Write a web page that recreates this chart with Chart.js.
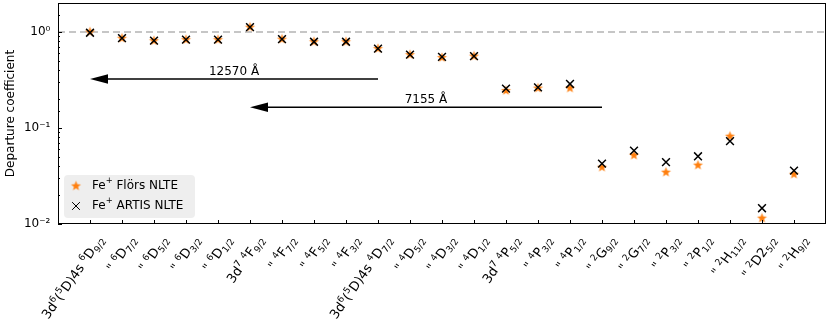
<!DOCTYPE html>
<html>
<head>
<meta charset="utf-8">
<script src="https://cdn.jsdelivr.net/npm/chart.js@4.4.7/dist/chart.umd.min.js"></script>
<style>
    html, body { margin: 0; padding: 0; background: #ffffff; }
    #wrap { width: 830px; height: 332px; }
</style>
</head>
<body>
<div id="wrap"><canvas id="departure_chart"></canvas></div>
<script>
// Level labels, ^{..} = superscript, _{..} = subscript
var levels = [
    '3d^{6}(^{5}D)4s ^{6}D_{9/2}', '" ^{6}D_{7/2}', '" ^{6}D_{5/2}', '" ^{6}D_{3/2}', '" ^{6}D_{1/2}',
    '3d^{7} ^{4}F_{9/2}', '" ^{4}F_{7/2}', '" ^{4}F_{5/2}', '" ^{4}F_{3/2}',
    '3d^{6}(^{5}D)4s ^{4}D_{7/2}', '" ^{4}D_{5/2}', '" ^{4}D_{3/2}', '" ^{4}D_{1/2}',
    '3d^{7} ^{4}P_{5/2}', '" ^{4}P_{3/2}', '" ^{4}P_{1/2}',
    '" ^{2}G_{9/2}', '" ^{2}G_{7/2}', '" ^{2}P_{3/2}', '" ^{2}P_{1/2}',
    '" ^{2}H_{11/2}', '" ^{2}D2_{5/2}', '" ^{2}H_{9/2}'
];

var floersNLTE = [1.00, 0.86, 0.81, 0.83, 0.83, 1.12, 0.84, 0.79, 0.79, 0.67, 0.58, 0.54, 0.56,
                  0.245, 0.26, 0.26, 0.039, 0.052, 0.0346, 0.041, 0.082, 0.0115, 0.033];
var artisNLTE  = [0.98, 0.86, 0.81, 0.83, 0.83, 1.12, 0.84, 0.79, 0.79, 0.67, 0.58, 0.55, 0.56,
                  0.257, 0.265, 0.287, 0.0426, 0.058, 0.044, 0.0507, 0.073, 0.0146, 0.036];

var seriesNames = ['Fe^{+} Flörs NLTE', 'Fe^{+} ARTIS NLTE'];

// Wavelength arrows: from level index, to level index, height, text
var arrowFrom   = [9, 16];
var arrowTo     = [0, 5];
var arrowLevel  = [0.323, 0.164];
var arrowLabels = ['12570 Å', '7155 Å'];

var FONT = "'DejaVu Sans', sans-serif";
var ORANGE = '#ff7f0e';

// Filled five pointed star, used as point style
function makeStar(color, r) {
    var c = document.createElement('canvas');
    var size = Math.ceil(r * 2 + 2);
    c.width = size;
    c.height = size;
    var g = c.getContext('2d');
    var inner = r * 0.42;
    g.beginPath();
    for (var k = 0; k < 10; k++) {
        var rr = (k % 2 === 0) ? r : inner;
        var a = -Math.PI / 2 + k * Math.PI / 5;
        var px = size / 2 + rr * Math.cos(a);
        var py = size / 2 + rr * Math.sin(a);
        if (k === 0) g.moveTo(px, py); else g.lineTo(px, py);
    }
    g.closePath();
    g.fillStyle = color;
    g.fill();
    return c;
}
var star = makeStar(ORANGE, 5.2);

// Split a label into normal / sup / sub pieces
function parseRich(s) {
    var out = [], i = 0, buf = '';
    while (i < s.length) {
        var c = s[i];
        if ((c === '^' || c === '_') && s[i + 1] === '{') {
            if (buf) { out.push({t: buf, m: 0}); buf = ''; }
            var j = s.indexOf('}', i);
            out.push({t: s.slice(i + 2, j), m: c === '^' ? 1 : -1});
            i = j + 1;
        } else {
            buf += c;
            i++;
        }
    }
    if (buf) out.push({t: buf, m: 0});
    return out;
}

function richWidth(ctx, segs, size) {
    var w = 0;
    segs.forEach(function(sg) {
        ctx.font = (sg.m ? size * 0.7 : size) + 'px ' + FONT;
        w += ctx.measureText(sg.t).width;
    });
    return w;
}

// Draw rich text with its left end at (x, y) on the baseline
function drawRich(ctx, segs, x, y, size) {
    segs.forEach(function(sg) {
        var fs = sg.m ? size * 0.7 : size;
        var dy = sg.m === 1 ? -size * 0.4 : (sg.m === -1 ? size * 0.22 : 0);
        ctx.font = fs + 'px ' + FONT;
        ctx.fillText(sg.t, x, y + dy);
        x += ctx.measureText(sg.t).width;
    });
}

function isDecade(v) {
    var l = Math.log10(v);
    return Math.abs(l - Math.round(l)) < 1e-9;
}

var supDigits = {'0': '⁰', '1': '¹', '2': '²', '3': '³', '-': '⁻'};

var extras = {
    id: 'extras',
    beforeDatasetsDraw: function(chart) {
        var ctx = chart.ctx, a = chart.chartArea;
        var y = chart.scales.y.getPixelForValue(1);
        ctx.save();
        ctx.strokeStyle = '#b4b4b4';
        ctx.lineWidth = 1.5;
        ctx.setLineDash([7, 4]);
        ctx.beginPath();
        ctx.moveTo(a.left, y);
        ctx.lineTo(a.right, y);
        ctx.stroke();
        ctx.restore();
    },
    afterDatasetsDraw: function(chart) {
        var ctx = chart.ctx, xs = chart.scales.x, ys = chart.scales.y;
        ctx.save();
        for (var i = 0; i < arrowFrom.length; i++) {
            var x0 = xs.getPixelForValue(arrowFrom[i]);
            var x1 = xs.getPixelForValue(arrowTo[i]);
            var y = ys.getPixelForValue(arrowLevel[i]);
            var head = 18;
            ctx.strokeStyle = '#000';
            ctx.fillStyle = '#000';
            ctx.lineWidth = 1.5;
            ctx.beginPath();
            ctx.moveTo(x0, y);
            ctx.lineTo(x1 + head, y);
            ctx.stroke();
            ctx.beginPath();
            ctx.moveTo(x1, y);
            ctx.lineTo(x1 + head, y - 4.7);
            ctx.lineTo(x1 + head, y + 4.7);
            ctx.closePath();
            ctx.fill();
            ctx.font = '12px ' + FONT;
            ctx.textAlign = 'center';
            ctx.textBaseline = 'alphabetic';
            ctx.fillText(arrowLabels[i], (x0 + x1) / 2, y - 4);
        }
        ctx.restore();
    },
    afterDraw: function(chart) {
        var ctx = chart.ctx, a = chart.chartArea, xs = chart.scales.x, ys = chart.scales.y;
        ctx.save();

        // frame
        ctx.strokeStyle = '#000';
        ctx.lineWidth = 1;
        ctx.strokeRect(a.left + 0.5, a.top + 0.5, a.right - a.left - 1, a.bottom - a.top - 1);

        // inward ticks
        ctx.beginPath();
        levels.forEach(function(l, i) {
            var px = Math.round(xs.getPixelForValue(i)) + 0.5;
            ctx.moveTo(px, a.bottom);
            ctx.lineTo(px, a.bottom - 4);
        });
        ys.ticks.forEach(function(t) {
            if (t.value < ys.min || t.value > ys.max) return;
            var py = Math.round(ys.getPixelForValue(t.value)) + 0.5;
            ctx.moveTo(a.left, py);
            ctx.lineTo(a.left + (isDecade(t.value) ? 4 : 2), py);
        });
        ctx.stroke();

        // rotated level labels
        ctx.fillStyle = '#000';
        ctx.textAlign = 'left';
        ctx.textBaseline = 'alphabetic';
        levels.forEach(function(l, i) {
            var segs = parseRich(l);
            var w = richWidth(ctx, segs, 13);
            ctx.save();
            ctx.translate(xs.getPixelForValue(i) + 14.5, a.bottom + 15.5);
            ctx.rotate(-55 * Math.PI / 180);
            drawRich(ctx, segs, -w, 0, 13);
            ctx.restore();
        });

        // legend
        var lx = 64, ly = 175, lw = 131, lh = 43;
        ctx.fillStyle = 'rgba(235,235,235,0.85)';
        ctx.beginPath();
        ctx.roundRect(lx, ly, lw, lh, 4);
        ctx.fill();
        ctx.drawImage(star, 76 - star.width / 2, 186 - star.height / 2);
        Chart.helpers.drawPoint(ctx, {pointStyle: 'crossRot', radius: 5.5, borderWidth: 1.5,
                                      borderColor: '#000', backgroundColor: '#000', rotation: 0}, 76, 206);
        ctx.fillStyle = '#000';
        ctx.textBaseline = 'middle';
        drawRich(ctx, parseRich(seriesNames[0]), 92, 186, 12);
        drawRich(ctx, parseRich(seriesNames[1]), 92, 206, 12);

        ctx.restore();
    }
};

var ctx = document.getElementById('departure_chart');

var data = {
    datasets: [
        {
            label: 'Fe+ Flörs NLTE',
            data: floersNLTE.map(function(v, i) { return {x: i, y: v}; }),
            pointStyle: star,
            order: 1
        },
        {
            label: 'Fe+ ARTIS NLTE',
            data: artisNLTE.map(function(v, i) { return {x: i, y: v}; }),
            pointStyle: 'crossRot',
            pointRadius: 5.5,
            pointBorderWidth: 1.5,
            borderColor: '#000',
            backgroundColor: '#000',
            order: 0
        }
    ]
};

var options = {
    responsive: false,
    animation: false,
    maintainAspectRatio: false,
    layout: {
        autoPadding: false,
        padding: { top: 3, right: 4, left: 0, bottom: 0 }
    },
    scales: {
        x: {
            type: 'linear',
            min: -1,
            max: 23,
            ticks: { display: false },
            grid: { display: false, drawTicks: false },
            border: { display: false },
            afterFit: function(s) { s.height = 108; }
        },
        y: {
            type: 'logarithmic',
            min: 0.01,
            max: 2,
            ticks: {
                autoSkip: false,
                padding: 0,
                color: '#000',
                // tiny line height keeps the labels from padding the plot area
                font: { size: 12, family: FONT, lineHeight: 0.2 },
                callback: function(value) {
                    if (!isDecade(value)) return '';
                    var e = String(Math.round(Math.log10(value)));
                    return '10' + e.split('').map(function(c) { return supDigits[c]; }).join('') + '  ';
                }
            },
            grid: { display: false, drawTicks: false },
            border: { display: false },
            title: {
                display: true,
                text: 'Departure coefficient',
                color: '#000',
                font: { size: 12, family: FONT },
                padding: { top: 4, bottom: 0 }
            },
            afterFit: function(s) { s.width = 58; }
        }
    },
    plugins: {
        legend: { display: false },
        tooltip: { enabled: false }
    }
};

ctx.width = 830;
ctx.height = 332;
var chart = new Chart(ctx, { type: 'scatter', data: data, options: options, plugins: [extras] });
</script>
</body>
</html>
